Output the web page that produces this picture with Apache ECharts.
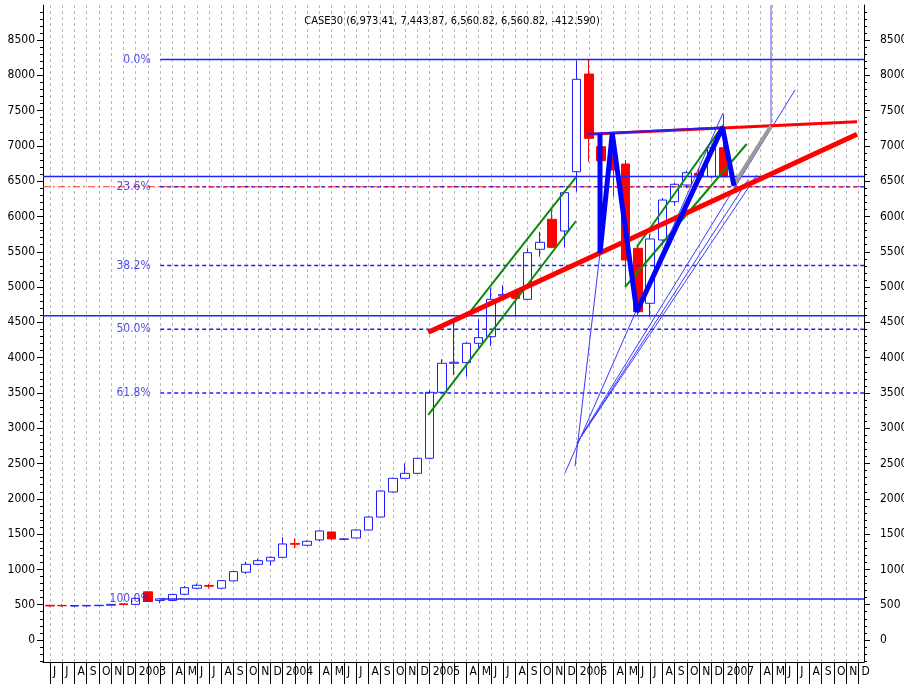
<!DOCTYPE html>
<html>
<head>
<meta charset="utf-8">
<title>CASE30</title>
<script src="https://cdn.jsdelivr.net/npm/echarts@6/dist/echarts.min.js"></script>
<style>
  html, body { margin: 0; padding: 0; background: #fff; }
  #chart { width: 904px; height: 686px; }
</style>
</head>
<body>
<div id="chart"></div>
<script>
// month ticks, one per month from Jun 2002 to Dec 2007 (index = x value)
var monthLabels = [
  'J','J','A','S','O','N','D',
  '2003','','','A','M','J','J','A','S','O','N','D',
  '2004','','','A','M','J','J','A','S','O','N','D',
  '2005','','','A','M','J','J','A','S','O','N','D',
  '2006','','','A','M','J','J','A','S','O','N','D',
  '2007','','','A','M','J','J','A','S','O','N','D'
];
var yLabels = [0,500,1000,1500,2000,2500,3000,3500,4000,4500,5000,5500,6000,6500,7000,7500,8000,8500];

// monthly bars, Jun 2002 .. Jan 2007
var opens = [492,490,480,482,486,492,512,505,682,560,560,648,733,772,733,837,960,1072,1120,1171,
  1368,1342,1418,1530,1425,1445,1558,1742,2097,2290,2361,2574,3509,3920,3929,4203,4297,4875,4920,4826,
  5535,5960,5794,6634,8018,6988,6847,6743,5549,4770,5667,6209,6446,6611,6563,6973.41];
var closes = [482,484,488,490,492,505,502,590,545,582,645,741,775,762,840,968,1072,1124,1171,1360,
  1356,1398,1544,1432,1432,1558,1742,2110,2290,2361,2574,3509,3920,3935,4203,4283,4826,4892,4840,5487,
  5634,5563,6337,7943,7107,6790,6658,5383,4651,5681,6233,6456,6620,6563,6973.41,6560.82];
var lows = [470,468,476,478,482,490,498,495,540,520,555,640,720,730,725,830,935,1060,1055,1165,
  1300,1335,1400,1425,1420,1440,1550,1735,2090,2280,2350,2560,3500,3754,3730,4132,4165,4840,4580,4826,
  5430,5550,5563,6351,6776,6700,6280,5029,4600,4580,5600,6150,6400,6540,6540,6560.82];
var highs = [495,505,490,494,496,508,515,600,690,590,650,765,800,794,845,975,1110,1150,1185,1455,
  1440,1410,1550,1540,1440,1565,1750,2120,2300,2503,2580,3542,3976,4496,4220,4543,4982,5029,4940,5549,
  5784,6092,6350,8207,8217,7150,7000,6800,5600,5750,6260,6480,6650,6670,7000,7443.87];

// retracement levels
var fibNames = ['0.0%','23.6%','38.2%','50.0%','61.8%','100.0%'];
var fibLevels = [8225, 6421, 5305, 4402, 3500, 580];
var fibStart = 9;
var supportLevels = [6565, 4594];

// drawn studies, [month index, value]
var redLong = [[30.88, 4359], [65.88, 7164]];
var redFlat = [[43.94, 7164], [65.88, 7343]];
var blueFlat = [[43.94, 7168], [54.9, 7262]];
var zigzag = [[44.9, 7168], [44.9, 5483], [45.9, 7178], [47.9, 4651], [54.9, 7263], [55.84, 6436]];
var greenLines = [
  [[34.29, 4647], [42.94, 6559]],
  [[30.88, 3188], [42.94, 5936]],
  [[47.9, 5568], [54.96, 7296]],
  [[46.94, 5001], [56.87, 7027]]
];
var thinLines = [
  [[42.04, 2366], [54.94, 7466]],
  [[43.02, 2791], [60.82, 7792]],
  [[42.86, 2460], [44.9, 5483]],
  [[43.02, 2791], [56.98, 6517]],
  [[43.02, 2791], [57.71, 6588]]
];
var grayLine = [[55.76, 6432], [58.86, 7282]];
var vertLine = [[58.86, 7282], [58.86, 8996]];

var xMin = -0.57, xMax = 66.45;
var yMin = -312, yMax = 8996;
var font = "'Liberation Sans Narrow', 'DejaVu Sans Condensed', 'Arial Narrow', sans-serif";
var blue = '#1f1fff';

var candles = opens.map(function (o, i) {
  return [i, o, closes[i], lows[i], highs[i]];
});
var monthTicks = monthLabels.map(function (l, i) { return i; });
var minorTicks = [];
for (var t = -300; t <= 8900; t += 100) minorTicks.push(t);

function lineSeries(points, color, width, type, z) {
  return {
    type: 'line', data: points, symbol: 'none', silent: true, z: z || 4,
    lineStyle: { color: color, width: width, type: type || 'solid' },
    animation: false
  };
}

var series = [{
  type: 'candlestick',
  data: candles,
  encode: { x: 0, y: [1, 2, 3, 4] },
  barWidth: 9,
  z: 2,
  itemStyle: {
    color: '#ffffff', color0: '#ff0000',
    borderColor: blue, borderColor0: '#ff0000', borderWidth: 1
  }
}];

fibLevels.forEach(function (v, i) {
  var solid = (i === 0 || i === fibLevels.length - 1);
  series.push(lineSeries([[fibStart, v], [xMax, v]], blue, 1.5, solid ? 'solid' : [4, 3], 3));
});
series.push(lineSeries([[xMin, fibLevels[1]], [xMax, fibLevels[1]]], '#ff3030', 1.2, [7, 3, 2, 3], 3));
supportLevels.forEach(function (v) {
  series.push(lineSeries([[xMin, v], [xMax, v]], blue, 1.5, 'solid', 3));
});
series.push({
  type: 'scatter', silent: true, symbolSize: 1, z: 5,
  itemStyle: { color: 'rgba(0,0,0,0)' },
  data: fibLevels.map(function (v) { return [fibStart, v]; }),
  label: {
    show: true, position: 'left', distance: 9, color: '#1a1ae6',
    fontSize: 12, fontFamily: font,
    formatter: function (p) { return fibNames[p.dataIndex]; }
  }
});

greenLines.forEach(function (pts) { series.push(lineSeries(pts, '#0a8a0a', 2, 'solid', 4)); });
thinLines.forEach(function (pts) { series.push(lineSeries(pts, '#3a3aff', 1, 'solid', 4)); });
series.push(lineSeries(vertLine, '#5050ff', 1, 'solid', 4));
series.push(lineSeries(redLong, '#ff0000', 5, 'solid', 5));
series.push(lineSeries(redFlat, '#ff0000', 3, 'solid', 5));
series.push(lineSeries(blueFlat, blue, 2, 'solid', 6));
series.push(lineSeries(grayLine, '#9a9a9a', 4, 'solid', 6));
series.push(lineSeries(zigzag, '#0000ff', 5, 'solid', 7));

function yAxisDef(pos, margin) {
  return [{
    type: 'value', position: pos, min: yMin, max: yMax,
    axisLine: { show: true, onZero: false, lineStyle: { color: '#000' } },
    axisTick: { show: true, length: 6, customValues: yLabels, lineStyle: { color: '#000' } },
    axisLabel: {
      show: true, customValues: yLabels, margin: margin, color: '#000',
      fontSize: 12, fontFamily: font,
      formatter: function (v) { return String(v); }
    },
    splitLine: { show: false }
  }, {
    type: 'value', position: pos, min: yMin, max: yMax,
    axisLine: { show: false, onZero: false },
    axisTick: { show: true, length: 3, customValues: minorTicks, lineStyle: { color: '#000' } },
    axisLabel: { show: false },
    splitLine: { show: false }
  }];
}

var chart = echarts.init(document.getElementById('chart'), null, { renderer: 'canvas' });
chart.setOption({
  backgroundColor: '#ffffff',
  animation: false,
  title: {
    text: 'CASE30 (6,973.41, 7,443.87, 6,560.82, 6,560.82, -412.590)',
    left: 'center', top: 11,
    textStyle: { fontSize: 11, fontWeight: 'normal', color: '#000', fontFamily: font }
  },
  grid: { left: 43, right: 40, top: 5, bottom: 24, outerBoundsMode: 'none', containLabel: false },
  xAxis: {
    type: 'value', min: xMin, max: xMax,
    axisLine: { show: true, onZero: false, lineStyle: { color: '#000' } },
    axisTick: { show: true, length: 22, customValues: monthTicks, lineStyle: { color: '#000' } },
    axisLabel: {
      show: true, customValues: monthTicks, align: 'left', margin: 4,
      padding: [0, 0, 0, 3], color: '#000', fontSize: 12, fontFamily: font,
      formatter: function (v) { return monthLabels[Math.round(v)] || ''; }
    },
    splitLine: { show: true, lineStyle: { color: '#b8b8b8', type: [3, 3], width: 1 } }
  },
  yAxis: yAxisDef('left', 8).concat(yAxisDef('right', 16)),
  series: series
});
</script>
</body>
</html>
